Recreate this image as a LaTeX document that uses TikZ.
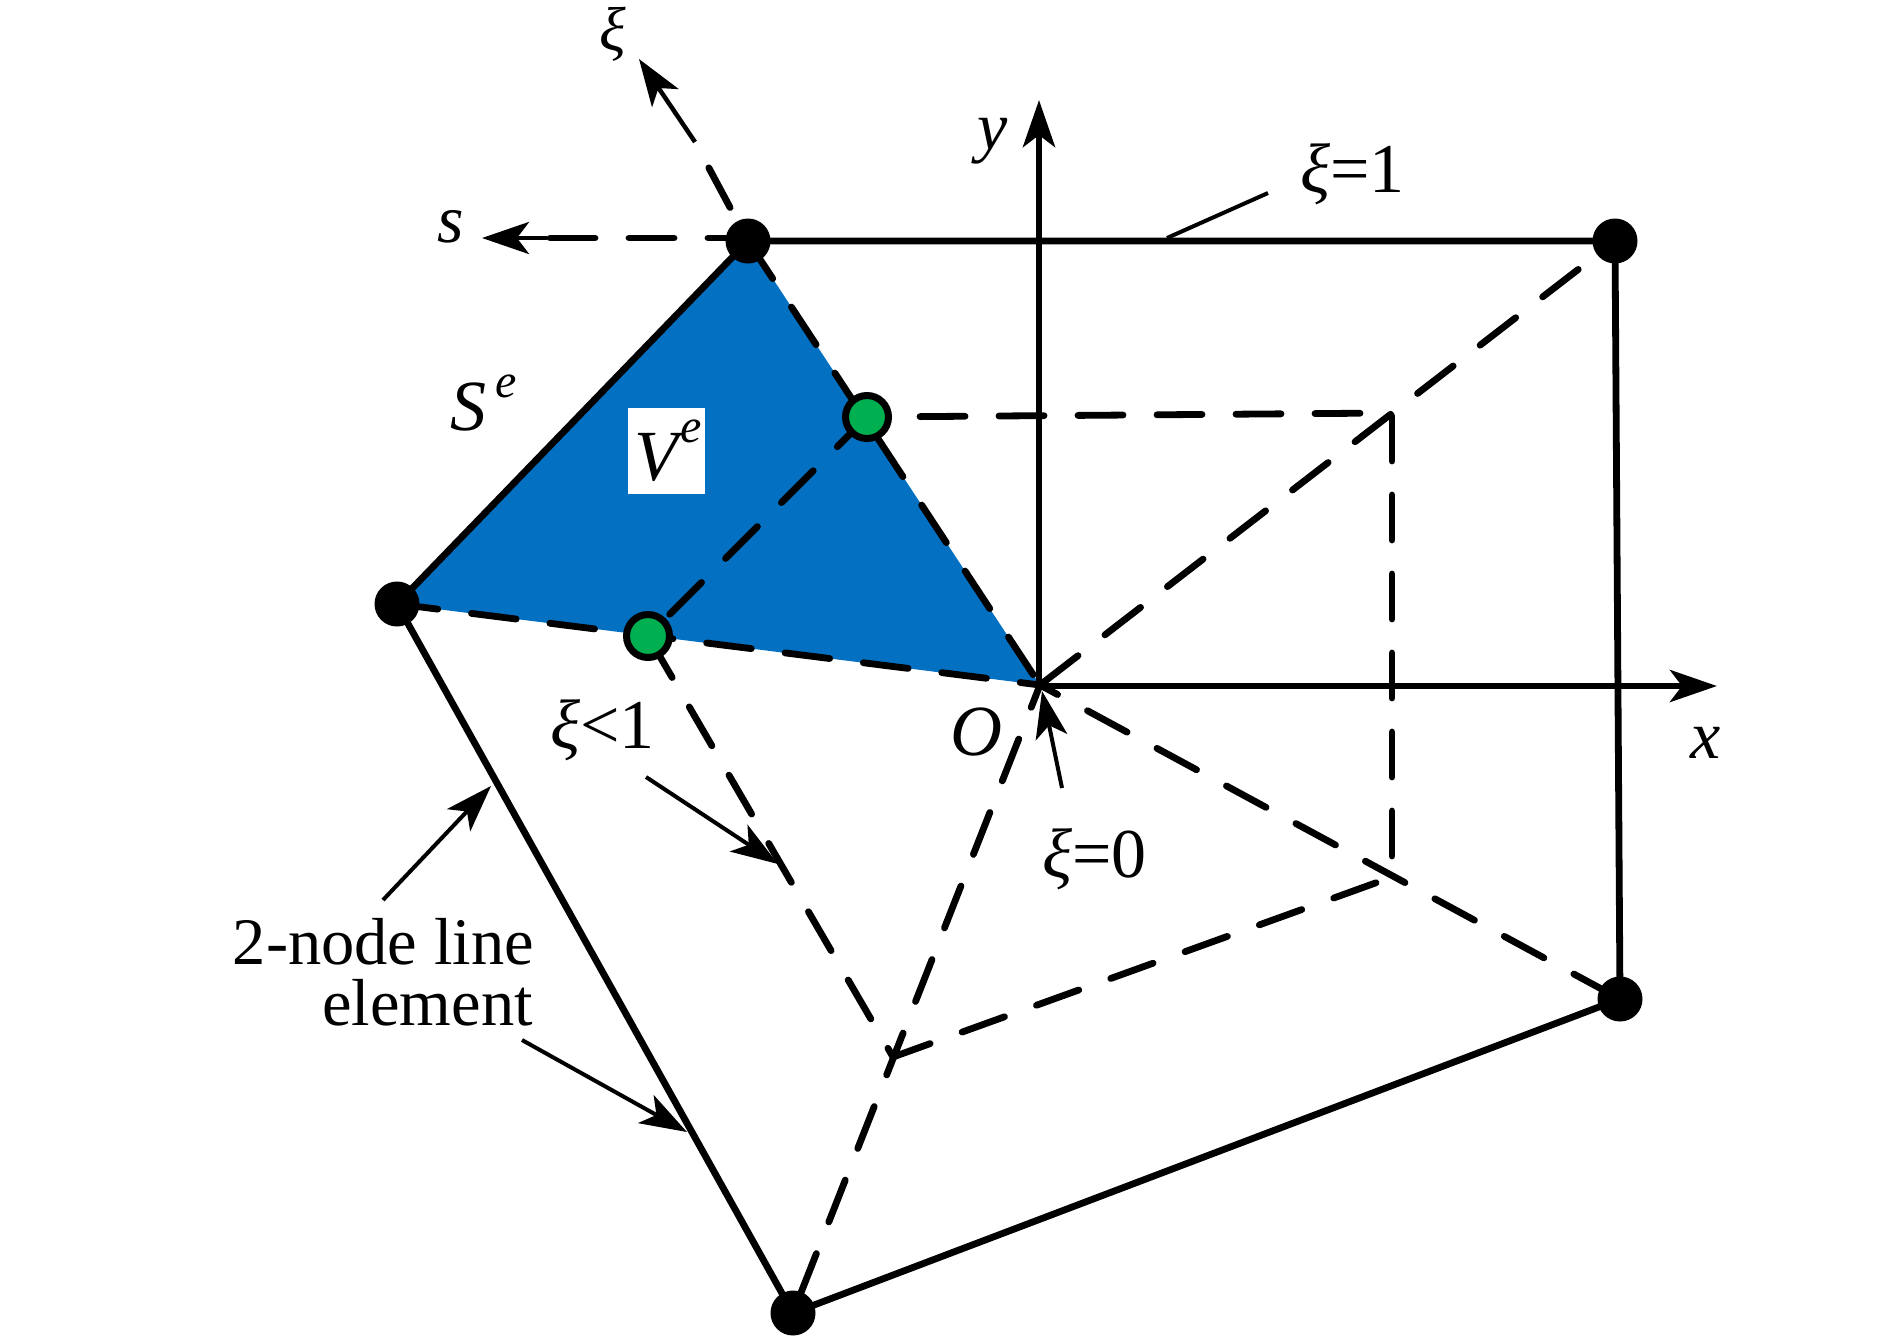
\documentclass[tikz,border=0pt]{standalone}
\usepackage{fontspec}
\setmainfont{Liberation Serif}
\usetikzlibrary{arrows.meta}
\pgfdeclarelayer{background}
\pgfsetlayers{background,main}
\definecolor{elemblue}{HTML}{0470C1}
\definecolor{dotgreen}{HTML}{00B050}
\tikzset{
  vertexdot/.style={circle,fill=black,draw=none,minimum size=45pt,inner sep=0pt},
  greendot/.style={circle,fill=dotgreen,draw=black,line width=7pt,minimum size=43pt,inner sep=0pt},
  solidline/.style={line width=6.8pt,line cap=round},
  dashline/.style={line width=6.8pt,line cap=round,dash pattern=on 45pt off 34pt},
  bighead/.style={-{Stealth[length=47pt,width=32pt,inset=12pt]},line cap=butt},
  axisline/.style={bighead,line width=6.8pt},
  tailline/.style={bighead,line width=4.5pt},
  leader/.style={bighead,line width=4pt},
  plainleader/.style={line width=4pt},
  lbl/.style={inner sep=0pt,font=\fontsize{66.5}{70}\selectfont},
  xilbl/.style={inner sep=0pt,font=\fontsize{70}{70}\selectfont},
  ilbl/.style={inner sep=0pt,font=\fontsize{72}{70}\selectfont\itshape},
  lowlbl/.style={inner sep=0pt,font=\fontsize{68}{70}\selectfont\itshape},
  toplbl/.style={inner sep=0pt,font=\fontsize{62}{62}\selectfont\itshape},
  suplbl/.style={inner sep=0pt,font=\fontsize{48}{48}\selectfont\itshape},
}
\begin{document}
\begin{tikzpicture}[x=1pt,y=-1pt]
\useasboundingbox (0,0) rectangle (1890,1342);
% vertices
\node[vertexdot] (A) at (748,241) {};
\node[vertexdot] (B) at (1615,241) {};
\node[vertexdot] (C) at (1620,999) {};
\node[vertexdot] (D) at (793,1313) {};
\node[vertexdot] (E) at (397,604) {};
\node[greendot] (G2) at (867,417) {};
\node[greendot] (G1) at (648,636) {};
\coordinate (O) at (1040,685);
\coordinate (P) at (1392,413);
\coordinate (Q) at (1392,877);
\coordinate (R) at (893,1057);
\coordinate (xTip) at (1717,686);
\coordinate (yTip) at (1039,100);
\coordinate (yFoot) at (1039,686);
\coordinate (xiTail) at (695,142);
\coordinate (xiTip) at (639,59);
\coordinate (sRoot) at (748,238);
\coordinate (sTail) at (547,238);
\coordinate (sTip) at (482,238);
\begin{pgfonlayer}{background}
  \fill[elemblue] (A.center) -- (O) -- (E.center) -- cycle;
  % solid outline
  \draw[solidline] (A.center) -- (B.center) -- (C.center) -- (D.center) -- (E.center) -- (A.center);
  % axes
  \draw[axisline] (yFoot) -- (yTip);
  \draw[axisline] (yFoot) -- (xTip);
  \draw[tailline] (xiTail) -- (xiTip);
  \draw[tailline] (sTail) -- (sTip);
  % dashed
  \draw[dashline,dash phase=0pt] (A.center) -- (O);
  \draw[dashline,dash phase=41pt] (A.center) -- (xiTail);
  \draw[dashline,dash phase=5pt] (sRoot) -- (sTail);
  \draw[dashline,dash phase=25pt] (O) -- (E.center);
  \draw[dashline,dash phase=76pt] (O) -- (B.center);
  \draw[dashline,dash phase=25pt] (O) -- (C.center);
  \draw[dashline,dash phase=21pt] (O) -- (D.center);
  \draw[dashline,dash phase=47pt] (P) -- (G2.center);
  \draw[dashline,dash phase=76pt] (P) -- (Q);
  \draw[dashline,dash phase=62pt] (Q) -- (R);
  \draw[dashline,dash phase=3pt] (G2.center) -- (G1.center);
  \draw[dashline,dash phase=76pt] (G1.center) -- (R);
\end{pgfonlayer}
% labels
\node[toplbl] (xiL) at (613,34) {ξ};
\node[lowlbl,anchor=base west] (sL) at (437,242) {s};
\node[ilbl,anchor=base west] (SL) at (450,430) {S};
\node[suplbl,anchor=base west] (SeL) at (495,397) {e};
\node[fill=white,minimum width=77pt,minimum height=86pt,inner sep=0pt] (Vbox) at (666.5,451) {};
\node[ilbl,anchor=base west] (VL) at (634,480) {V};
\node[suplbl,anchor=base west] (VeL) at (680,442) {e};
\node[lowlbl,anchor=base west] (yL) at (977,149) {y};
\node[lowlbl,anchor=base west] (xL) at (1690,758) {x};
\node[ilbl,anchor=base west] (OL) at (950,755) {O};
\node[xilbl,anchor=base west] (xi1) at (1300,192) {{\itshape ξ}=1};
\node[xilbl,anchor=base west] (xi0) at (1042,877) {{\itshape ξ}=0};
\node[xilbl,anchor=base west] (xilt) at (550,748) {{\itshape ξ}<1};
\node[lbl,anchor=base east] (lineL) at (534,964) {2-node line};
\node[lbl,anchor=base east] (elemL) at (533,1025) {element};
% leaders
\coordinate (a1) at (1268,193);
\coordinate (a2) at (1167,238);
\draw[plainleader] (a1) -- (a2);
\coordinate (b1) at (1062,788);
\coordinate (b2) at (1042,691);
\draw[leader] (b1) -- (b2);
\coordinate (c1) at (646,777);
\coordinate (c2) at (778,864);
\draw[leader] (c1) -- (c2);
\coordinate (d1) at (383,900);
\coordinate (d2) at (491,786);
\draw[leader] (d1) -- (d2);
\coordinate (e1) at (522,1040);
\coordinate (e2) at (687,1132);
\draw[leader] (e1) -- (e2);
\end{tikzpicture}
\end{document}
